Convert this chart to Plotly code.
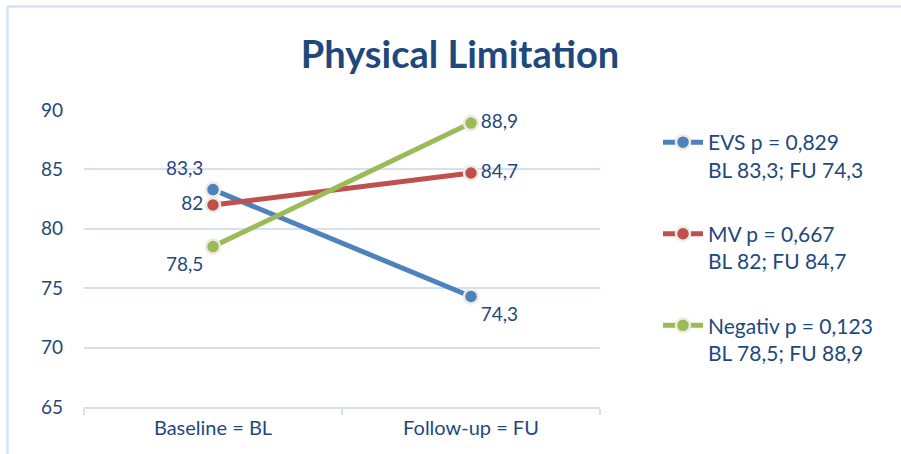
import plotly.graph_objects as go

# Chart data
categories = ["Baseline = BL", "Follow-up = FU"]
groups = ["EVS", "MV", "Negativ"]
p_values = ["0,829", "0,667", "0,123"]
evs_values = [83.3, 74.3]
mv_values = [82, 84.7]
negativ_values = [78.5, 88.9]
y_ticks = [65, 70, 75, 80, 85, 90]

series_values = [evs_values, mv_values, negativ_values]
colors = ["#4F81BD", "#C0504D", "#9BBB59"]
label_positions = [
    ["top left", "bottom right"],
    ["middle left", "middle right"],
    ["bottom left", "middle right"],
]

TEXT_COLOR = "#1F497D"
GRID_COLOR = "#D5E0F1"
FONT = "Lato, 'Open Sans', sans-serif"

W, H = 901, 454
ML, MR, MT, MB = 84, 301, 110, 47


def de(v):
    """German-style decimal formatting."""
    s = f"{v:g}"
    return s.replace(".", ",")


fig = go.Figure()
for name, p, vals, color, pos in zip(groups, p_values, series_values, colors, label_positions):
    legend_text = f"{name} p = {p}<br>BL {de(vals[0])}; FU {de(vals[1])}"
    fig.add_trace(go.Scatter(
        x=categories,
        y=vals,
        name=legend_text,
        legendgroup=name,
        mode="lines+markers+text",
        line=dict(color=color, width=5),
        marker=dict(size=14, color=color, line=dict(color="#EEECE1", width=2.5)),
        text=[de(v) for v in vals],
        textposition=pos,
        textfont=dict(family=FONT, size=19, color=TEXT_COLOR),
        cliponaxis=False,
    ))

# outer frame (left and top edges)
x_left = (7.5 - ML) / (W - ML - MR)
x_right = (W - ML) / (W - ML - MR)
y_top = (H - MB - 6.5) / (H - MT - MB)
y_bottom = (H - MB - H) / (H - MT - MB)
frame = dict(type="line", xref="paper", yref="paper",
             line=dict(color="#D6E3F4", width=2.5))

fig.update_layout(
    width=W,
    height=H,
    margin=dict(l=ML, r=MR, t=MT, b=MB),
    paper_bgcolor="white",
    plot_bgcolor="white",
    separators=", ",
    font=dict(family=FONT, color=TEXT_COLOR, size=18),
    title=dict(
        text="<b>Physical Limitation</b>",
        font=dict(family=FONT, size=38, color=TEXT_COLOR),
        x=460 / W, xanchor="center", xref="container",
        y=1 - 55 / H, yanchor="middle", yref="container",
    ),
    showlegend=True,
    legend=dict(
        xref="container", yref="container",
        x=658 / W, y=1 - 122 / H,
        xanchor="left", yanchor="top",
        valign="top",
        tracegroupgap=34,
        itemwidth=40,
        maxheight=440,
        font=dict(family=FONT, size=21, color=TEXT_COLOR),
        bgcolor="rgba(0,0,0,0)",
    ),
    shapes=[
        dict(frame, x0=x_left, x1=x_left, y0=y_top, y1=y_bottom),
        dict(frame, x0=x_left, x1=x_right, y0=y_top, y1=y_top),
    ],
)

fig.update_xaxes(
    type="category",
    range=[-0.5, 1.5],
    showline=True,
    linecolor=GRID_COLOR,
    linewidth=1.5,
    ticks="outside",
    tickson="boundaries",
    ticklen=6,
    tickcolor=GRID_COLOR,
    tickwidth=1.5,
    showgrid=False,
    tickfont=dict(family=FONT, size=20, color=TEXT_COLOR),
    ticklabelstandoff=2,
)

fig.update_yaxes(
    range=[65, 90],
    tickvals=y_ticks,
    showgrid=True,
    gridcolor=GRID_COLOR,
    gridwidth=1.5,
    zeroline=False,
    showline=False,
    ticks="",
    tickfont=dict(family=FONT, size=19, color=TEXT_COLOR),
    ticklabelstandoff=20,
)

fig.write_html("out.html")
